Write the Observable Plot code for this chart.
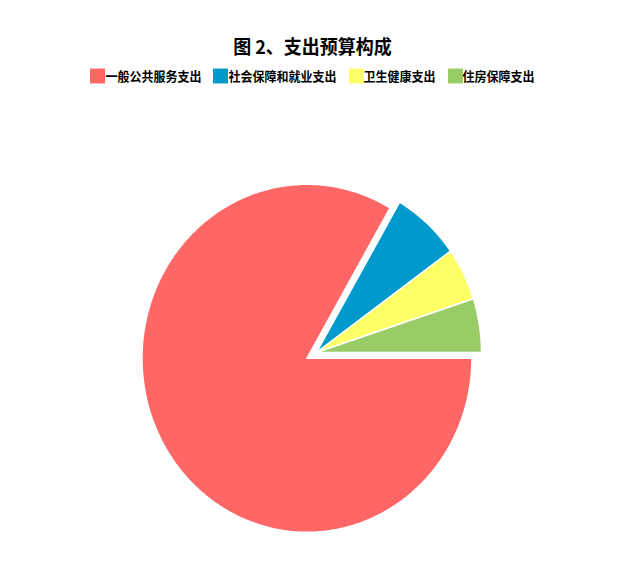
<!DOCTYPE html>
<html>
<head>
<meta charset="utf-8">
<script src="https://cdn.jsdelivr.net/npm/d3@7"></script>
<script src="https://cdn.jsdelivr.net/npm/@observablehq/plot@0.6"></script>
<style>
  html, body { margin: 0; padding: 0; background: #fff; }
  body { width: 625px; height: 576px; overflow: hidden; font-family: "Noto Sans CJK SC", "Noto Sans", sans-serif; }
  #head { position: relative; height: 95px; }
  #title { position: absolute; left: 0; width: 625px; top: 34px; text-align: center; font-size: 18px; font-weight: bold; color: #000; line-height: 24px; transform: scaleY(1.06); }
  #legend { position: absolute; left: 0; width: 625px; top: 68px; display: flex; justify-content: center; gap: 12px; }
  .item { display: flex; align-items: center; font-size: 12px; font-weight: bold; color: #000; line-height: 16px; transform: scaleY(1.06); padding-left: 0px; }
  .sw { width: 15px; height: 14px; display: inline-block; }
  #chart svg { display: block; }
</style>
</head>
<body>
<div id="head">
  <div id="title"></div>
  <div id="legend"></div>
</div>
<div id="chart"></div>
<script>
const title = "图 2、支出预算构成";
const categories = ["一般公共服务支出", "社会保障和就业支出", "卫生健康支出", "住房保障支出"];
const values = [83.4, 6.7, 4.9, 5.0];
const colors = ["#ff6666", "#0099cc", "#ffff66", "#99cc66"];
const selected = [true, false, false, false];

document.getElementById("title").textContent = title;
const legend = document.getElementById("legend");
categories.forEach((c, i) => {
  const it = document.createElement("div");
  it.className = "item";
  const sw = document.createElement("span");
  sw.className = "sw";
  sw.style.background = colors[i];
  const t = document.createElement("span");
  t.textContent = c;
  it.appendChild(sw);
  it.appendChild(t);
  legend.appendChild(it);
});

// geometry
const W = 625, H = 481;
const cx = 316, cy = 257;      // pie centre in svg px
const rx = 165, ry = 174;      // px per unit along x and y
const offsetPx = 11;           // selected slice offset

const total = d3.sum(values);
const points = [];
let a0 = 0;
values.forEach((v, i) => {
  const span = v / total * 2 * Math.PI;
  const mid = a0 + span / 2;
  let ox = 0, oy = 0;
  if (selected[i]) { ox = Math.cos(-mid) * offsetPx / rx; oy = Math.sin(-mid) * offsetPx / rx; }
  const cat = categories[i];
  points.push({cat, x: ox, y: oy});
  const n = Math.max(4, Math.ceil(span / (Math.PI / 180)));
  for (let k = 0; k <= n; k++) {
    const th = -(a0 + span * k / n); // clockwise from east
    points.push({cat, x: ox + Math.cos(th), y: oy + Math.sin(th)});
  }
  points.push({cat, x: ox, y: oy});
  a0 += span;
});

const chart = Plot.plot({
  width: W,
  height: H,
  margin: 0,
  x: {domain: [-cx / rx, (W - cx) / rx], range: [0, W], axis: null},
  y: {domain: [-(H - cy) / ry, cy / ry], range: [H, 0], axis: null},
  color: {domain: categories, range: colors},
  style: {background: "#fff"},
  marks: [
    Plot.line(points, {x: "x", y: "y", z: "cat", fill: "cat", stroke: "white", strokeWidth: 1.5, strokeLinejoin: "miter", curve: "linear"})
  ]
});
document.getElementById("chart").appendChild(chart);
</script>
</body>
</html>
